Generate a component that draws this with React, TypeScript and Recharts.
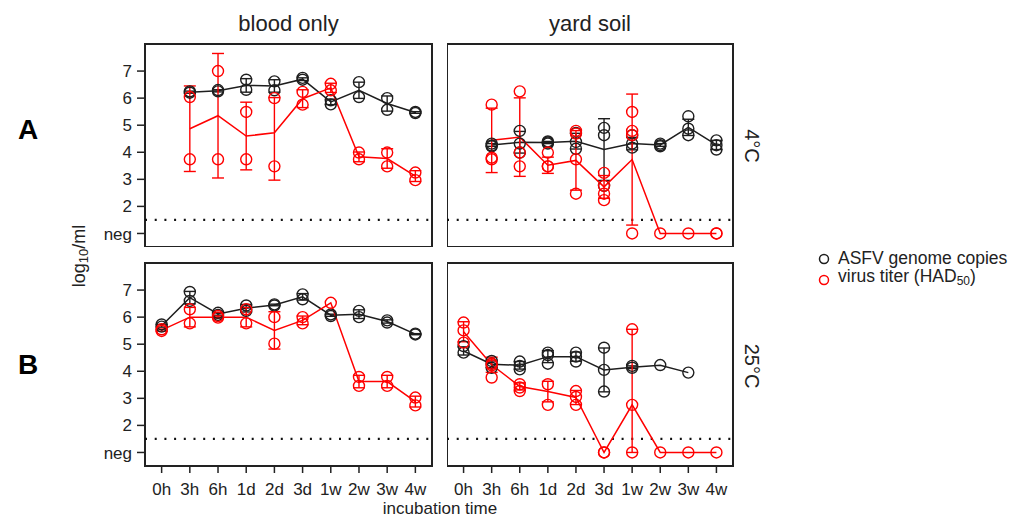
import React from 'react';
import {
  ComposedChart,
  Line,
  Scatter,
  XAxis,
  YAxis,
  ErrorBar,
  ReferenceLine,
  ReferenceArea
} from 'recharts';

type Err = number | [number, number] | null;

const timeLabels = ['0h', '3h', '6h', '1d', '2d', '3d', '1w', '2w', '3w', '4w'];
const yTicks = [1, 2, 3, 4, 5, 6, 7];

// A: 4°C, blood only
const bloodColdGenome = [null, 6.22, 6.27, 6.47, 6.45, 6.7, 5.86, 6.29, 5.8, 5.47];
const bloodColdGenomeErr: Err[] = [null, 0.04, 0.04, 0.25, 0.23, 0.05, 0.1, 0.3, 0.28, 0.03];
const bloodColdGenomeReps = [[], [6.25, 6.2], [6.3, 6.25], [6.68, 6.31], [6.62, 6.29], [6.75, 6.68], [5.92, 5.77], [6.59, 6.04], [6.0, 5.57], [5.49, 5.45]];
const bloodColdTiter = [null, 4.87, 5.35, 4.6, 4.72, 5.98, 6.38, 3.83, 3.77, 3.12];
const bloodColdTiterErr: Err[] = [null, 1.58, 2.3, 1.25, [1.75, 1.3], 0.33, 0.17, 0.18, 0.36, 0.2];
const bloodColdTiterReps = [[], [6.04, 3.74], [7.0, 3.74], [5.49, 3.74], [6.0, 3.48], [6.23, 5.76], [6.53, 6.29], [3.99, 3.74], [3.99, 3.48], [3.25, 2.97]];

// A: 4°C, yard soil
const soilColdGenome = [null, 4.27, 4.37, 4.36, 4.41, 4.1, 4.32, 4.27, 4.92, 4.27];
const soilColdGenomeErr: Err[] = [null, 0.05, 0.4, 0.04, 0.29, 1.14, 0.23, 0.05, 0.3, 0.17];
const soilColdGenomeReps = [[], [4.32, 4.22, 4.25], [4.79, 4.32, 3.99], [4.4, 4.32, 4.36], [4.71, 4.38, 4.13], [4.9, 4.63, 2.76], [4.63, 4.32, 4.17], [4.32, 4.22, 4.26], [5.33, 4.87, 4.63], [4.44, 4.26, 4.1]];
const soilColdTiter = [null, 4.44, 4.56, 3.52, 3.7, 2.72, 3.73, 1, 1, 1];
const soilColdTiterErr: Err[] = [null, 1.19, 1.45, 0.3, 1.1, 0.42, 2.42, null, null, null];
const soilColdTiterReps = [[], [5.76, 3.74, 3.8], [6.25, 3.99, 3.48], [3.99, 3.48, 3.48], [4.79, 4.69, 3.74, 2.47], [3.24, 2.76, 2.47, 2.23], [5.49, 4.79, 4.63, 1], [1], [1], [1, 1]];

// B: 25°C, blood only
const bloodWarmGenome = [5.68, 6.72, 6.12, 6.33, 6.45, 6.75, 6.07, 6.11, 5.84, 5.37];
const bloodWarmGenomeErr: Err[] = [0.05, 0.23, 0.05, 0.14, 0.03, 0.12, 0.04, 0.16, 0.06, 0.02];
const bloodWarmGenomeReps = [[5.73, 5.65], [6.93, 6.6], [6.16, 6.08], [6.43, 6.23], [6.47, 6.43], [6.84, 6.66], [6.1, 6.04], [6.23, 6.0], [5.88, 5.8], [5.39, 5.36]];
const bloodWarmTiter = [5.52, 6.0, 6.0, 6.0, 5.51, 5.88, 6.53, 3.62, 3.62, 2.88];
const bloodWarmTiterErr: Err[] = [0.04, 0.36, 0.04, 0.36, 0.69, 0.16, null, 0.23, 0.23, 0.2];
const bloodWarmTiterReps = [[5.55, 5.49], [6.29, 5.77], [6.04, 5.98], [6.29, 5.77], [6.0, 5.02], [6.0, 5.77], [6.53], [3.79, 3.46], [3.79, 3.46], [3.03, 2.74]];

// B: 25°C, yard soil
const soilWarmGenome = [4.75, 4.26, 4.22, 4.54, 4.54, 4.05, 4.15, 4.22, 3.95, null];
const soilWarmGenomeErr: Err[] = [0.15, 0.12, 0.14, 0.22, 0.17, 0.81, 0.05, null, null, null];
const soilWarmGenomeReps = [[4.93, 4.69], [4.38, 4.28, 4.13], [4.36, 4.2, 4.07], [4.69, 4.6, 4.28], [4.69, 4.54, 4.36], [4.87, 4.05, 3.25], [4.2, 4.13], [4.23], [3.95], []];
const soilWarmTiter = [5.46, 4.24, 3.44, 3.25, 3.03, 1, 2.76, 1, 1, 1];
const soilWarmTiterErr: Err[] = [0.37, 0.28, 0.13, 0.38, 0.26, null, [1.76, 2.79], null, null, null];
const soilWarmTiterReps = [[5.8, 5.51, 5.06], [4.28, 4.22, 3.77], [3.52, 3.4, 3.27], [3.52, 2.76], [3.27, 3.05, 2.76], [1, 1], [5.55, 2.76, 1], [1], [1], [1]];

const BLACK = '#1e1e1e';
const RED = '#ff0000';
const FONT = '"Liberation Sans", Arial, sans-serif';

const toLine = (mean: (number | null)[], err: Err[]) =>
  mean
    .map((y, i) => (y == null ? null : { x: i, y, err: err[i] == null ? undefined : err[i] }))
    .filter(Boolean) as { x: number; y: number; err?: Err }[];

const toReps = (reps: number[][]) => reps.flatMap((vals, i) => vals.map(y => ({ x: i, y })));

const ring = (color: string) => (p: any) => (
  <circle cx={p.cx} cy={p.cy} r={5.5} fill="none" stroke={color} strokeWidth={1.4} />
);

interface PanelProps {
  left: number;
  top: number;
  w: number;
  h: number;
  showY: boolean;
  showX: boolean;
  genome: (number | null)[];
  genomeErr: Err[];
  genomeReps: number[][];
  titer: (number | null)[];
  titerErr: Err[];
  titerReps: number[][];
}

const Panel = (p: PanelProps) => {
  const yw = p.showY ? 70 : 0;
  const xh = p.showX ? 40 : 0;
  const tick = { fontSize: 17, fill: '#222', fontFamily: FONT };
  return (
    <div style={{ position: 'absolute', left: p.left - yw, top: p.top - 2 }}>
      <ComposedChart
        width={yw + p.w + 2}
        height={2 + p.h + xh}
        margin={{ top: 2, right: 2, bottom: 0, left: 0 }}
      >
        <XAxis
          dataKey="x"
          type="number"
          domain={[-0.59, 9.59]}
          ticks={timeLabels.map((_, i) => i)}
          tickFormatter={(i: number) => timeLabels[i]}
          allowDataOverflow
          hide={!p.showX}
          height={xh}
          axisLine={false}
          tickLine={{ stroke: '#222', strokeWidth: 1.5 }}
          tickSize={7}
          tickMargin={10}
          tick={tick}
        />
        <YAxis
          dataKey="y"
          type="number"
          domain={[0.5, 8]}
          ticks={yTicks}
          tickFormatter={(v: number) => (v === 1 ? 'neg' : String(v))}
          allowDataOverflow
          hide={!p.showY}
          width={yw}
          axisLine={false}
          tickLine={{ stroke: '#222', strokeWidth: 1.5 }}
          tickSize={8}
          tickMargin={5}
          tick={tick}
        />
        <ReferenceLine y={1.5} stroke="#111" strokeWidth={2.2} strokeDasharray="2 7.7" />
        <Line
          data={toLine(p.genome, p.genomeErr)}
          dataKey="y"
          stroke={BLACK}
          strokeWidth={1.5}
          dot={false}
          isAnimationActive={false}
        >
          <ErrorBar dataKey="err" direction="y" width={6} stroke={BLACK} strokeWidth={1.4} />
        </Line>
        <Line
          data={toLine(p.titer, p.titerErr)}
          dataKey="y"
          stroke={RED}
          strokeWidth={1.5}
          dot={false}
          isAnimationActive={false}
        >
          <ErrorBar dataKey="err" direction="y" width={6} stroke={RED} strokeWidth={1.4} />
        </Line>
        <Scatter data={toReps(p.genomeReps)} dataKey="y" shape={ring(BLACK)} isAnimationActive={false} />
        <Scatter data={toReps(p.titerReps)} dataKey="y" shape={ring(RED)} isAnimationActive={false} />
        <ReferenceArea x1={-0.59} x2={9.59} y1={0.5} y2={8} fill="none" stroke="#222" strokeWidth={2} />
      </ComposedChart>
    </div>
  );
};

const abs = (extra: React.CSSProperties): React.CSSProperties => ({
  position: 'absolute',
  whiteSpace: 'nowrap',
  color: '#222',
  ...extra
});

export default function App() {
  return (
    <div style={{ position: 'absolute', left: 0, top: 0, width: 1014, height: 523, background: '#fff', fontFamily: FONT }}>
      <div style={abs({ left: 145, top: 10, width: 287, textAlign: 'center', fontSize: 22, lineHeight: '28px' })}>blood only</div>
      <div style={abs({ left: 447, top: 10, width: 286, textAlign: 'center', fontSize: 22, lineHeight: '28px' })}>yard soil</div>

      <Panel left={145} top={44} w={287} h={203} showY showX={false}
        genome={bloodColdGenome} genomeErr={bloodColdGenomeErr} genomeReps={bloodColdGenomeReps}
        titer={bloodColdTiter} titerErr={bloodColdTiterErr} titerReps={bloodColdTiterReps} />
      <Panel left={447} top={44} w={286} h={203} showY={false} showX={false}
        genome={soilColdGenome} genomeErr={soilColdGenomeErr} genomeReps={soilColdGenomeReps}
        titer={soilColdTiter} titerErr={soilColdTiterErr} titerReps={soilColdTiterReps} />
      <Panel left={145} top={263} w={287} h={203} showY showX
        genome={bloodWarmGenome} genomeErr={bloodWarmGenomeErr} genomeReps={bloodWarmGenomeReps}
        titer={bloodWarmTiter} titerErr={bloodWarmTiterErr} titerReps={bloodWarmTiterReps} />
      <Panel left={447} top={263} w={286} h={203} showY={false} showX
        genome={soilWarmGenome} genomeErr={soilWarmGenomeErr} genomeReps={soilWarmGenomeReps}
        titer={soilWarmTiter} titerErr={soilWarmTiterErr} titerReps={soilWarmTiterReps} />

      <div style={abs({ left: 8, top: 110, width: 40, textAlign: 'center', fontSize: 28, fontWeight: 'bold', lineHeight: '40px', color: '#000' })}>A</div>
      <div style={abs({ left: 8, top: 345, width: 40, textAlign: 'center', fontSize: 28, fontWeight: 'bold', lineHeight: '40px', color: '#000' })}>B</div>

      <div style={abs({ left: 752, top: 146, fontSize: 20, lineHeight: '24px', transform: 'translate(-50%, -50%) rotate(90deg)' })}>4°C</div>
      <div style={abs({ left: 752, top: 366, fontSize: 20, lineHeight: '24px', transform: 'translate(-50%, -50%) rotate(90deg)' })}>25°C</div>

      <div style={abs({ left: 81, top: 256, fontSize: 18, lineHeight: '22px', transform: 'translate(-50%, -50%) rotate(-90deg)' })}>
        log<sub style={{ fontSize: 13, verticalAlign: '-3px' }}>10</sub>/ml
      </div>

      <div style={abs({ left: 440, top: 498, fontSize: 17, lineHeight: '22px', transform: 'translateX(-50%)' })}>incubation time</div>

      <div style={abs({ left: 816, top: 249, fontSize: 17.5, lineHeight: '18px' })}>
        <div style={{ display: 'flex', alignItems: 'center' }}>
          <svg width={16} height={18}><circle cx={8} cy={10} r={4.5} fill="none" stroke={BLACK} strokeWidth={1.5} /></svg>
          <span style={{ marginLeft: 6 }}>ASFV genome copies</span>
        </div>
        <div style={{ display: 'flex', alignItems: 'center' }}>
          <svg width={16} height={18}><circle cx={8} cy={10} r={4.5} fill="none" stroke={RED} strokeWidth={1.5} /></svg>
          <span style={{ marginLeft: 6 }}>virus titer (HAD<sub style={{ fontSize: 12, verticalAlign: '-3px' }}>50</sub>)</span>
        </div>
      </div>
    </div>
  );
}
